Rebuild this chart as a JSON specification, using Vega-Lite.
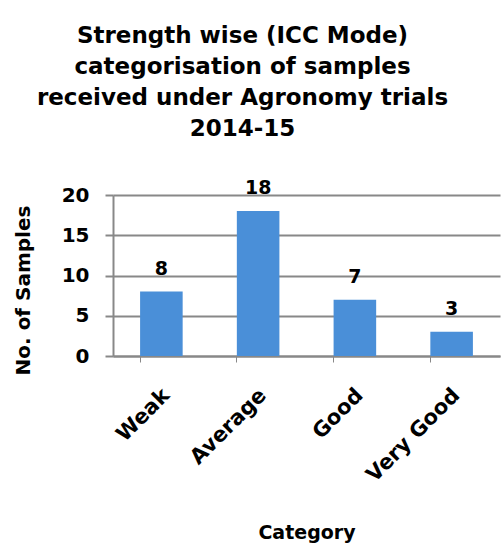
{
  "$schema": "https://vega.github.io/schema/vega-lite/v6.json",
  "autosize": "none",
  "padding": {"left": 113, "top": 195, "right": 1, "bottom": 189},
  "width": 387,
  "height": 161,
  "background": "white",
  "title": {
    "text": ["Strength wise (ICC Mode)", "categorisation of samples", "received under Agronomy trials", "2014-15"],
    "font": "DejaVu Sans",
    "fontSize": 23,
    "fontWeight": "bold",
    "lineHeight": 31,
    "color": "black",
    "anchor": "middle",
    "dx": -64,
    "offset": 38
  },
  "data": {
    "values": [
      {"Category": "Weak", "Samples": 8},
      {"Category": "Average", "Samples": 18},
      {"Category": "Good", "Samples": 7},
      {"Category": "Very Good", "Samples": 3}
    ]
  },
  "encoding": {
    "x": {
      "field": "Category",
      "type": "nominal",
      "sort": null,
      "scale": {"paddingInner": 0.56, "paddingOuter": 0.28},
      "axis": {
        "title": "Category",
        "labelAngle": -45,
        "labelAlign": "right",
        "labelBaseline": "middle",
        "labelPadding": 30,
        "labelOffset": 5,
        "labelFont": "DejaVu Sans",
        "labelFontWeight": "bold",
        "labelFontSize": 21,
        "labelColor": "black",
        "titleFont": "DejaVu Sans",
        "titleFontWeight": "bold",
        "titleFontSize": 19,
        "titleColor": "black",
        "titleY": 167,
        "titleBaseline": "top",
        "domainColor": "#888888",
        "domainWidth": 2,
        "ticks": true,
        "bandPosition": 0,
        "tickColor": "#888888",
        "tickSize": 6,
        "grid": false
      }
    },
    "y": {
      "field": "Samples",
      "type": "quantitative",
      "scale": {"domain": [0, 20]},
      "axis": {
        "title": "No. of Samples",
        "values": [0, 5, 10, 15, 20],
        "labelFont": "DejaVu Sans",
        "labelFontWeight": "bold",
        "labelFontSize": 20,
        "labelColor": "black",
        "labelPadding": 16,
        "titleFont": "DejaVu Sans",
        "titleFontWeight": "bold",
        "titleFontSize": 20,
        "titleColor": "black",
        "titleX": -80,
        "titleY": 95,
        "domainColor": "#888888",
        "domainWidth": 2,
        "tickColor": "#888888",
        "tickSize": 8,
        "tickWidth": 2,
        "gridColor": "#888888",
        "gridWidth": 2
      }
    }
  },
  "layer": [
    {"mark": {"type": "bar", "color": "#4a8fd8"}},
    {
      "mark": {"type": "text", "baseline": "bottom", "dy": -13, "font": "DejaVu Sans", "fontWeight": "bold", "fontSize": 19, "color": "black"},
      "encoding": {"text": {"field": "Samples", "type": "quantitative"}}
    }
  ],
  "config": {"view": {"stroke": null}}
}
